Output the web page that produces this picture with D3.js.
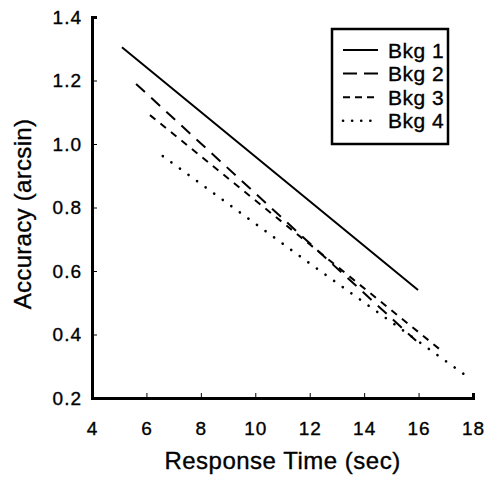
<!DOCTYPE html>
<html>
<head>
<meta charset="utf-8">
<script src="https://cdn.jsdelivr.net/npm/d3@7"></script>
<style>
  body { margin: 0; background: #fff; }
  text { font-family: "Liberation Sans", Arial, sans-serif; fill: #000; stroke: #000; stroke-width: 0.35px; }
</style>
</head>
<body>
<div id="chart"></div>
<script>
// series: [response time, accuracy]
const bkg1 = [[5.1, 1.305], [10.5, 0.925], [15.98, 0.54]];
const bkg2 = [[5.62, 1.189], [11.0, 0.766], [15.91, 0.38]];
const bkg3 = [[6.13, 1.091], [12.0, 0.684], [16.9, 0.345]];
const bkg4 = [[6.6, 0.962], [12.0, 0.624], [17.75, 0.27]];

const seriesNames = ["Bkg 1", "Bkg 2", "Bkg 3", "Bkg 4"];
const xTicks = [4, 6, 8, 10, 12, 14, 16, 18];
const yTicks = [0.2, 0.4, 0.6, 0.8, 1.0, 1.2, 1.4];

const width = 485, height = 479;

const svg = d3.select("#chart").append("svg")
    .attr("width", width)
    .attr("height", height);

const x = d3.scaleLinear().domain([4, 18]).range([92, 473]);
const y = d3.scaleLinear().domain([0.2, 1.4]).range([398, 17]);

// x axis, ticks point inward
const xAxis = svg.append("g")
    .attr("transform", "translate(0," + y(0.2) + ")")
    .call(d3.axisBottom(x).tickValues(xTicks).tickSize(-5).tickPadding(24).tickFormat(d3.format("d")));
xAxis.select(".domain").attr("stroke-width", 3);
xAxis.selectAll("text").attr("font-size", 19).attr("letter-spacing", 1);

const yAxis = svg.append("g")
    .attr("transform", "translate(" + x(4) + ",0)")
    .call(d3.axisLeft(y).tickValues(yTicks).tickSize(-5).tickPadding(10).tickFormat(d3.format(".1f")));
yAxis.select(".domain").attr("stroke-width", 3);
yAxis.selectAll("text").attr("font-size", 19).attr("letter-spacing", 1);

svg.append("text")
    .attr("x", (x(4) + x(18)) / 2)
    .attr("y", 469)
    .attr("text-anchor", "middle")
    .attr("font-size", 24)
    .attr("letter-spacing", 0.5)
    .text("Response Time (sec)");

svg.append("text")
    .attr("transform", "translate(31,214) rotate(-90)")
    .attr("text-anchor", "middle")
    .attr("font-size", 24)
    .attr("letter-spacing", 0.3)
    .text("Accuracy (arcsin)");

const dashes = [null, "12,8.5", "7,6.5", "0.1,10.5"];
const allSeries = [bkg1, bkg2, bkg3, bkg4];

const line = d3.line()
    .x(function(d) { return x(d[0]); })
    .y(function(d) { return y(d[1]); });

allSeries.forEach(function(s, i) {
    svg.append("path")
        .datum(s)
        .attr("fill", "none")
        .attr("stroke", "#000")
        .attr("stroke-width", i == 3 ? 2.6 : 2)
        .attr("stroke-dasharray", dashes[i])
        .attr("stroke-linecap", i == 3 ? "round" : "butt")
        .attr("d", line);
});

// legend
const legend = svg.append("g").attr("transform", "translate(332,29)");
legend.append("rect")
    .attr("width", 116)
    .attr("height", 115)
    .attr("fill", "#fff")
    .attr("stroke", "#000")
    .attr("stroke-width", 2.5);

const legendDashes = [null, "14,7", "7,5", "0.1,9"];
seriesNames.forEach(function(name, i) {
    let ly = 21 + i * 23.6;
    legend.append("line")
        .attr("x1", 11).attr("x2", 46)
        .attr("y1", ly).attr("y2", ly)
        .attr("stroke", "#000")
        .attr("stroke-width", i == 3 ? 2.6 : 2)
        .attr("stroke-linecap", i == 3 ? "round" : "butt")
        .attr("stroke-dasharray", legendDashes[i]);
    legend.append("text")
        .attr("x", 56)
        .attr("y", ly + 7.5)
        .attr("font-size", 21)
        .attr("letter-spacing", 0.5)
        .text(name);
});
</script>
</body>
</html>
